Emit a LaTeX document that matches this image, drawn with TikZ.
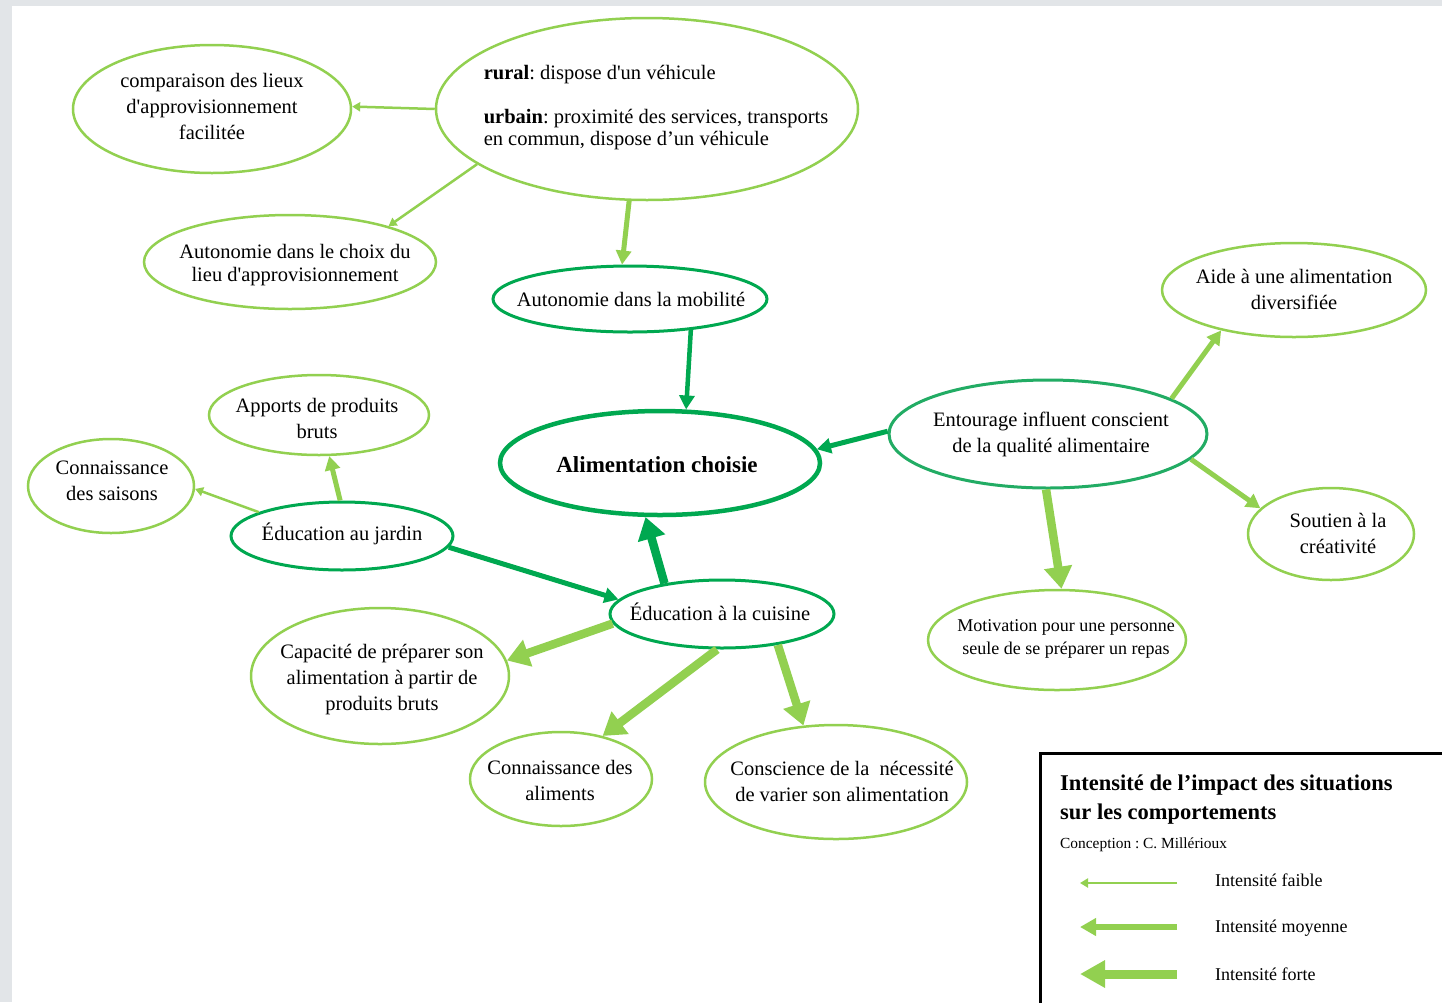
\documentclass[tikz,border=0pt]{standalone}
\usepackage{fontspec}
\setmainfont{Liberation Serif}
\usetikzlibrary{shapes.geometric,arrows.meta}
\definecolor{lightg}{RGB}{146,208,80}
\definecolor{darkg}{RGB}{0,168,80}
\definecolor{tealg}{RGB}{34,172,100}
\definecolor{edgegray}{RGB}{226,229,232}
\frenchspacing
\begin{document}
\begin{tikzpicture}[x=1pt,y=-1pt,
  bubble/.style={ellipse, draw=lightg, line width=2.5pt, inner sep=0pt},
  keybubble/.style={bubble, draw=darkg, line width=3pt},
  txt/.style={font=\fontsize{20.5}{26}\selectfont, align=center, text=black, inner sep=0pt},
  weak/.style={draw=lightg, line width=2.5pt, -{Triangle[length=8pt,width=9pt]}},
  medium/.style={draw=lightg, line width=5pt, -{Triangle[length=14pt,width=15pt]}},
  strong/.style={draw=lightg, line width=8.5pt, -{Triangle[length=22pt,width=27pt]}},
  dark/.style={draw=darkg}
]
\clip (0,0) rectangle (1442,1002);
% page edge and white sheet
\fill[edgegray] (0,0) rectangle (1442,1002);
\fill[white] (12,6) rectangle (1442,1002);

% ---------- bubbles ----------
\node[bubble, minimum width=278pt, minimum height=128pt] (comp) at (212,109) {};
\node[txt] (comp-t) at (212,106) {comparaison des lieux\\d\textquotesingle approvisionnement\\facilitée};

\node[bubble, minimum width=422pt, minimum height=182pt] (rural) at (647,109) {};
\node[txt, align=left, font=\fontsize{20.5}{22}\selectfont] (rural-t) at (656,108)
  {\textbf{rural}: dispose d\textquotesingle un véhicule\\[22pt]
   \textbf{urbain}: proximité des services, transports\\en commun, dispose d’un véhicule};

\node[bubble, minimum width=292pt, minimum height=94pt] (choix) at (290,262) {};
\node[txt, font=\fontsize{20.5}{23}\selectfont] (choix-t) at (295,265)
  {Autonomie dans le choix du\\lieu d\textquotesingle approvisionnement};

\node[keybubble, minimum width=274pt, minimum height=66pt] (mobil) at (630,299) {};
\node[txt] (mobil-t) at (631,299) {Autonomie dans la mobilité};

\node[keybubble, line width=4.5pt, minimum width=320pt, minimum height=104pt] (alim) at (660,463) {};
\node[txt, font=\fontsize{23}{28}\selectfont\bfseries] (alim-t) at (657,465) {Alimentation choisie};

\node[bubble, minimum width=264pt, minimum height=94pt] (aide) at (1294,290) {};
\node[txt] (aide-t) at (1294,289) {Aide à une alimentation\\diversifiée};

\node[keybubble, draw=tealg, minimum width=318pt, minimum height=108pt] (entour) at (1048,434) {};
\node[txt] (entour-t) at (1051,434) {Entourage influent conscient\\de la qualité alimentaire};

\node[bubble, minimum width=166pt, minimum height=92pt] (soutien) at (1331,534) {};
\node[txt] (soutien-t) at (1338,533) {Soutien à la\\créativité};

\node[bubble, minimum width=258pt, minimum height=100pt] (motiv) at (1057,640) {};
\node[txt, font=\fontsize{18}{23}\selectfont] (motiv-t) at (1066,639)
  {Motivation pour une personne\\seule de se préparer un repas};

\node[bubble, minimum width=220pt, minimum height=80pt] (apports) at (319,415) {};
\node[txt] (apports-t) at (317,418) {Apports de produits\\bruts};

\node[bubble, minimum width=166pt, minimum height=94pt] (saisons) at (111,486) {};
\node[txt] (saisons-t) at (112,481) {Connaissance\\des saisons};

\node[keybubble, minimum width=222pt, minimum height=68pt] (jardin) at (342,536) {};
\node[txt] (jardin-t) at (342,534) {Éducation au jardin};

\node[keybubble, minimum width=224pt, minimum height=68pt] (cuisine) at (722,614) {};
\node[txt] (cuisine-t) at (720,612) {Éducation à la cuisine};

\node[bubble, minimum width=258pt, minimum height=136pt] (capac) at (380,676) {};
\node[txt] (capac-t) at (382,680)
  {Capacité de préparer son\\alimentation à partir de\\produits bruts};

\node[bubble, minimum width=182pt, minimum height=94pt] (alims) at (561,779) {};
\node[txt] (alims-t) at (560,780) {Connaissance des\\aliments};

\node[bubble, minimum width=262pt, minimum height=114pt] (consc) at (836,782) {};
\node[txt] (consc-t) at (842,781) {Conscience de la\ \ nécessité\\de varier son alimentation};

% ---------- connectors ----------
\draw[weak] (rural.180) -- (comp.1);
\draw[weak] (rural.198) -- (choix.20);
\draw[medium] (rural.259) -- (mobil.103);
\draw[medium, dark, line width=4.5pt] (mobil.-27) -- (alim.64);

\draw[medium, dark] (entour.179) -- (alim.5);
\draw[medium] (entour.16) -- (aide.209);
\draw[medium] (entour.-10) -- (soutien.160);
\draw[strong] (entour.268) -- (motiv.85);

\draw[medium] (jardin.93) -- (apports.284);
\draw[weak] (jardin.164) -- (saisons.-2);
\draw[medium, dark] (jardin.-6) -- (cuisine.172);

\draw[strong, dark] (cuisine.152) -- (alim.255);
\draw[strong] (cuisine.185) -- (capac.7);
\draw[strong] (cuisine.262) -- (alims.46);
\draw[strong] (cuisine.-29) -- (consc.120);

% ---------- legend ----------
\draw[black, line width=3pt] (1040,753) rectangle (1470,1030);
\node[anchor=base west, align=left, inner sep=0pt,
      font=\fontsize{22.5}{29}\selectfont\bfseries] (leg-title) at (1060,819)
  {Intensité de l’impact des situations\\sur les comportements};
\node[anchor=base west, inner sep=0pt, font=\fontsize{15.4}{18}\selectfont] (leg-auth) at (1060,848)
  {Conception : C. Millérioux};

\coordinate (lw-a) at (1177,883);
\coordinate (lw-b) at (1080,883);
\coordinate (lm-a) at (1177,927);
\coordinate (lm-b) at (1080,927);
\coordinate (ls-a) at (1177,974);
\coordinate (ls-b) at (1080,974);
\draw[weak] (lw-a) -- (lw-b);
\draw[medium, line width=6pt, -{Triangle[length=16pt,width=17pt]}] (lm-a) -- (lm-b);
\draw[strong, line width=9pt, -{Triangle[length=25pt,width=26pt]}] (ls-a) -- (ls-b);

\node[anchor=base west, inner sep=0pt, font=\fontsize{18}{22}\selectfont] (leg-w) at (1215,886) {Intensité faible};
\node[anchor=base west, inner sep=0pt, font=\fontsize{18}{22}\selectfont] (leg-m) at (1215,932) {Intensité moyenne};
\node[anchor=base west, inner sep=0pt, font=\fontsize{18}{22}\selectfont] (leg-s) at (1215,980) {Intensité forte};
\end{tikzpicture}
\end{document}
